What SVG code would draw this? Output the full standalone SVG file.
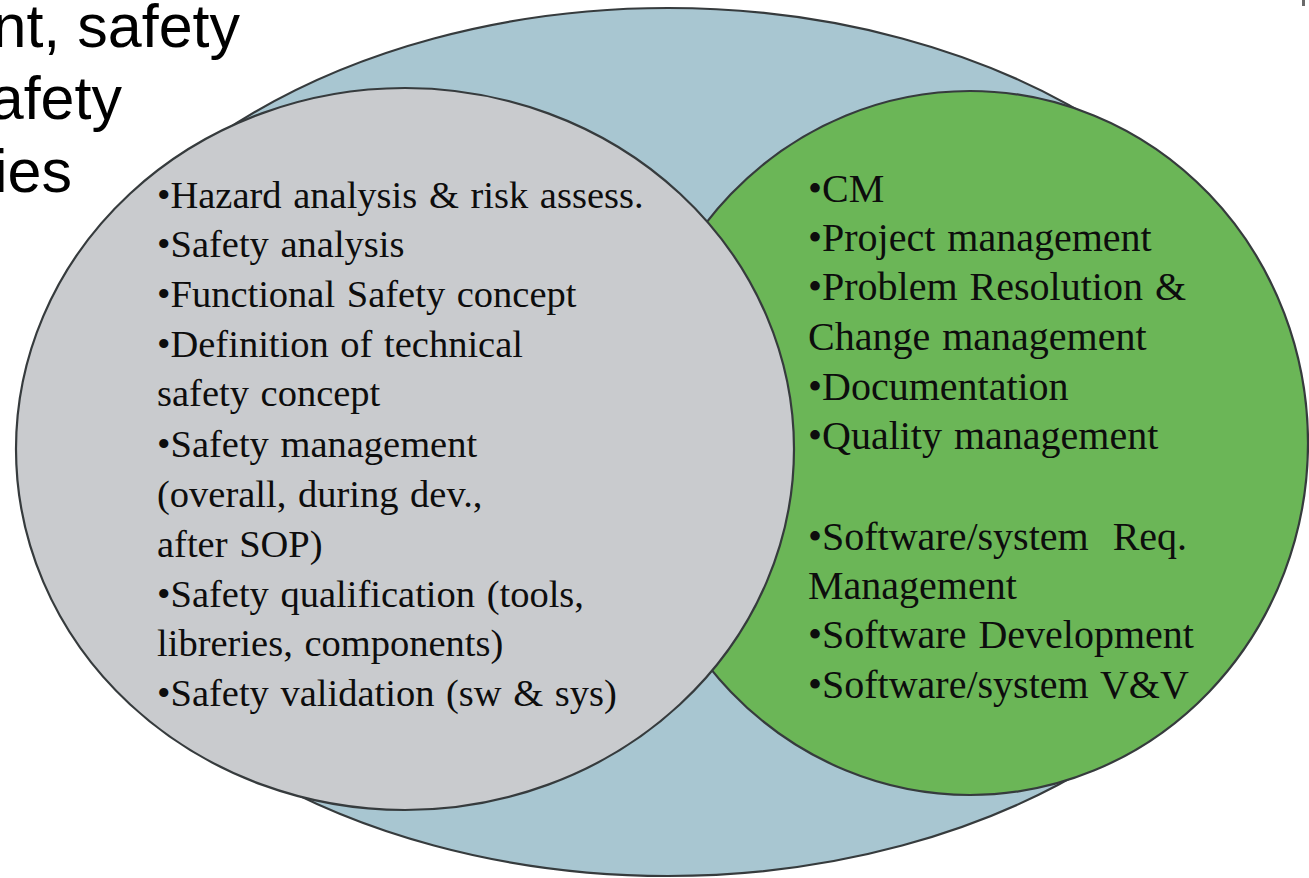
<svg xmlns="http://www.w3.org/2000/svg" width="1309" height="878" viewBox="0 0 1309 878">
  <style>
    .shape { stroke: #363b3d; stroke-width: 2.2; }
    .outer { fill: #a8c6d1; }
    .safety { fill: #c9cbce; }
    .process { fill: #6bb657; }
    .head { font-family: "Liberation Sans", Arial, sans-serif; font-size: 61px; fill: #000; }
    .item { font-family: "Liberation Serif", "Times New Roman", serif; fill: #0d0d0d; word-spacing: 2px; }
    .left { font-size: 38.5px; }
    .right { font-size: 40px; }
  </style>
  <rect width="1309" height="878" fill="#ffffff"/>

  <!-- clipped heading lines from the slide -->
  <g id="heading" class="head" text-anchor="end">
    <text x="240" y="47">nt, safety</text>
    <text x="122" y="119">afety</text>
    <text x="72" y="192">ies</text>
  </g>
  <rect x="1302" y="0" width="3" height="6" fill="#6a6a6a"/>

  <!-- overall scope -->
  <g id="scope">
    <ellipse class="shape outer" cx="668" cy="442" rx="636" ry="434"/>
  </g>

  <!-- process activities -->
  <g id="process">
    <ellipse class="shape process" cx="970" cy="443" rx="338" ry="352"/>
    <text class="item right" x="808">
      <tspan x="808" y="202">•CM</tspan>
      <tspan x="808" y="251">•Project management</tspan>
      <tspan x="808" y="300">•Problem Resolution &amp;</tspan>
      <tspan x="808" y="350">Change management</tspan>
      <tspan x="808" y="400">•Documentation</tspan>
      <tspan x="808" y="449">•Quality management</tspan>
      <tspan x="808" y="550">•Software/system&#160; Req.</tspan>
      <tspan x="808" y="599">Management</tspan>
      <tspan x="808" y="648">•Software Development</tspan>
      <tspan x="808" y="698">•Software/system V&amp;V</tspan>
    </text>
  </g>

  <!-- safety activities -->
  <g id="safety">
    <ellipse class="shape safety" cx="405" cy="449" rx="389" ry="361"/>
    <text class="item left" x="157">
      <tspan x="157" y="208">•Hazard analysis &amp; risk assess.</tspan>
      <tspan x="157" y="257">•Safety analysis</tspan>
      <tspan x="157" y="307">•Functional Safety concept</tspan>
      <tspan x="157" y="357">•Definition of technical</tspan>
      <tspan x="157" y="406">safety concept</tspan>
      <tspan x="157" y="457">•Safety management</tspan>
      <tspan x="157" y="507">(overall, during dev.,</tspan>
      <tspan x="157" y="557">after SOP)</tspan>
      <tspan x="157" y="607">•Safety qualification (tools,</tspan>
      <tspan x="157" y="656">libreries, components)</tspan>
      <tspan x="157" y="706">•Safety validation (sw &amp; sys)</tspan>
    </text>
  </g>
</svg>
